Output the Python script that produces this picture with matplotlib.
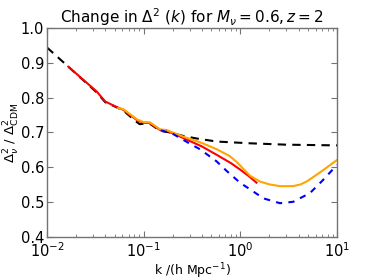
import matplotlib
matplotlib.use('Agg')
import matplotlib.pyplot as plt
from matplotlib.ticker import LogLocator, MultipleLocator, NullFormatter

# data
black_k = [0.01, 0.0166, 0.0327, 0.040, 0.050, 0.0616, 0.0848, 0.091, 0.099, 0.116,
           0.148, 0.187, 0.219, 0.257, 0.35, 0.569, 1.26, 3.0, 10.0]
black_v = [0.944, 0.889, 0.815, 0.787, 0.775, 0.763, 0.730, 0.724, 0.725, 0.725,
           0.705, 0.700, 0.695, 0.690, 0.683, 0.674, 0.669, 0.665, 0.663]

red_k = [0.0166, 0.0327, 0.040, 0.050, 0.0616, 0.0848, 0.099, 0.116, 0.148, 0.173,
         0.219, 0.257, 0.40, 0.569, 0.80, 0.99, 1.22, 1.47]
red_v = [0.889, 0.8175, 0.789, 0.776, 0.765, 0.736, 0.728, 0.727, 0.707, 0.705,
         0.693, 0.684, 0.660, 0.636, 0.612, 0.594, 0.575, 0.556]

orange_k = [0.0546, 0.0616, 0.0848, 0.099, 0.116, 0.148, 0.173, 0.219, 0.257, 0.40,
            0.569, 0.78, 0.92, 1.08, 1.26, 1.6, 2.0, 2.57, 3.52, 4.2, 4.84, 6.65, 10.0]
orange_v = [0.770, 0.767, 0.738, 0.730, 0.729, 0.709, 0.707, 0.696, 0.688, 0.670,
            0.652, 0.632, 0.615, 0.595, 0.576, 0.559, 0.551, 0.546, 0.546, 0.551,
            0.559, 0.585, 0.621]

blue_k = [0.15, 0.195, 0.30, 0.382, 0.485, 0.569, 0.72, 0.845, 1.0, 1.26, 1.73,
          2.57, 3.52, 5.25, 7.2, 10.0]
blue_v = [0.706, 0.698, 0.668, 0.652, 0.631, 0.617, 0.590, 0.573, 0.555, 0.537, 0.511,
          0.497, 0.501, 0.526, 0.564, 0.607]

fig = plt.figure(figsize=(3.74, 2.8), dpi=100)
ax = fig.add_axes([0.1257, 0.1536, 0.7753, 0.7464])

ax.semilogx(black_k, black_v, color='black', ls='--', lw=1.5, dashes=(4, 3))
ax.semilogx(red_k, red_v, color='red', lw=1.5)
ax.semilogx(orange_k, orange_v, color='orange', lw=1.5)
ax.semilogx(blue_k, blue_v, color='blue', ls='--', lw=1.5, dashes=(3, 3))

ax.set_xlim(0.01, 10)
ax.set_ylim(0.4, 1.0)
ax.yaxis.set_major_locator(MultipleLocator(0.1))
ax.xaxis.set_minor_locator(LogLocator(base=10, subs=range(2, 10)))
ax.xaxis.set_minor_formatter(NullFormatter())

for s in ax.spines.values():
    s.set_color('0.45')
    s.set_linewidth(1.0)
ax.tick_params(which='both', direction='in', top=True, right=True, color='0.45')
ax.tick_params(which='major', length=4, labelsize=10.5, pad=2)
ax.tick_params(axis='x', which='major', pad=3)
ax.tick_params(which='minor', length=2)

ax.set_title(r'Change in $\Delta^2\ (k)$ for $M_\nu=0.6,z=2$', fontsize=11, pad=3)
ax.set_xlabel(r'k /(h Mpc$^{-1}$)', fontsize=9, labelpad=1)
ax.set_ylabel(r'$\Delta^2_\nu\ /\ \Delta^2_{\rm CDM}$', fontsize=9.5)
ax.yaxis.set_label_coords(-0.085, 0.5)

plt.savefig('out.png', dpi=100)
